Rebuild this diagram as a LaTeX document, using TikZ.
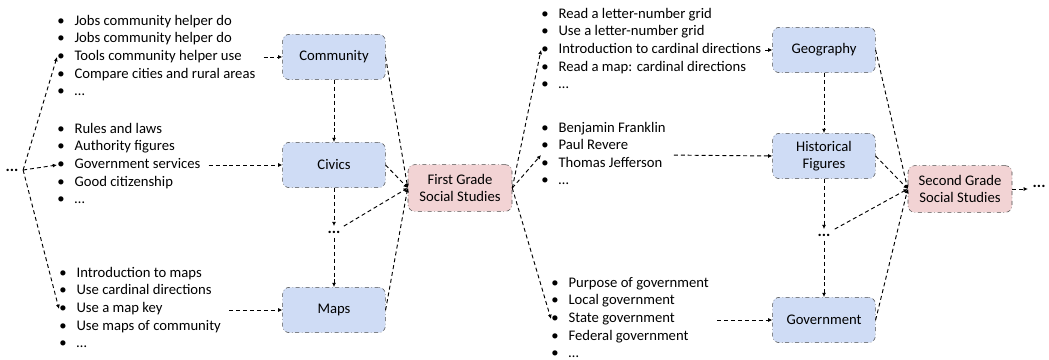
\documentclass[tikz,border=0pt]{standalone}
\usepackage{fontspec}
\setmainfont{Carlito}
\usetikzlibrary{positioning,arrows.meta}

\definecolor{topicblue}{HTML}{CFDCF5}
\definecolor{gradepink}{HTML}{F2D3D4}

% bullet list of five (or four) lines
\newcommand{\bulletlist}[1]{%
  \begin{tabular}{@{}l@{\hspace{7.5pt}}l@{}}#1\end{tabular}}

\begin{document}
\begin{tikzpicture}[x=0.75pt,y=-0.75pt,
  font=\fontsize{11}{13.2}\selectfont,
  topic/.style={draw=black!70,dash dot,thin,rounded corners=5pt,fill=topicblue,
    minimum width=77pt,minimum height=34pt,align=center},
  grade/.style={topic,fill=gradepink,minimum width=78pt,minimum height=35pt},
  items/.style={inner sep=0pt,anchor=west},
  more/.style={font=\fontsize{12}{14}\selectfont\bfseries},
  link/.style={line width=0.7pt,dash pattern=on 3pt off 2.2pt,
    -{Latex[length=3.2pt,width=3pt]}}]

\useasboundingbox (0,0) rectangle (1049,360);

\node[more] (start) at (12,170) {...};

% first grade
\node[items] (communitylist) at (57,57) {\bulletlist{%
  • & Jobs community helper do\\
  • & Jobs community helper do\\
  • & Tools community helper use\\
  • & Compare cities and rural areas\\
  • & \dots}};
\node[items] (civicslist) at (57,165) {\bulletlist{%
  • & Rules and laws\\
  • & Authority figures\\
  • & Government services\\
  • & Good citizenship\\
  • & \dots}};
\node[items] (mapslist) at (59,309) {\bulletlist{%
  • & Introduction to maps\\
  • & Use cardinal directions\\
  • & Use a map key\\
  • & Use maps of community\\
  • & \dots}};

\node[topic] (community) at (334,57) {Community};
\node[topic] (civics) at (334,165) {Civics};
\node[more] (moreA) at (334,232) {...};
\node[topic] (maps) at (334,310) {Maps};
\node[grade] (first) at (460,188) {First Grade\\Social Studies};

% second grade
\node[items] (geolist) at (541,50) {\bulletlist{%
  • & Read a letter-number grid\\
  • & Use a letter-number grid\\
  • & Introduction to cardinal directions\\
  • & Read a map: cardinal directions\\
  • & \dots}};
\node[items] (historylist) at (541,155) {\bulletlist{%
  • & Benjamin Franklin\\
  • & Paul Revere\\
  • & Thomas Jefferson\\
  • & \dots}};
\node[items] (govlist) at (551,319) {\bulletlist{%
  • & Purpose of government\\
  • & Local government\\
  • & State government\\
  • & Federal government\\
  • & \dots}};

\node[topic] (geography) at (824,50) {Geography};
\node[topic] (historical) at (824,156) {Historical\\Figures};
\node[more] (moreB) at (824,235) {...};
\node[topic] (government) at (824,320) {Government};
\node[grade] (second) at (960,189) {Second Grade\\Social Studies};
\node[more,anchor=west] (end) at (1028,186) {...};

% connectors
\draw[link] (start.east) -- (communitylist.west);
\draw[link] (start.east) -- (civicslist.west);
\draw[link] (start.east) -- (mapslist.west);
\draw[link,shorten <=6pt] (communitylist.east) -- (community.west);
\draw[link,shorten <=6pt] (civicslist.east |- civics) -- (civics.west);
\draw[link,shorten <=6pt] (mapslist.east |- maps) -- (maps.west);
\draw[link] (community) -- (civics);
\draw[link] (civics) -- (moreA);
\draw[link] (moreA) -- (maps);
\foreach \n in {community,civics,maps}
  \draw[link] (\n.east) -- (first.west);
\draw[link] (moreA) -- (first.west);

\draw[link] (first.east) -- (geolist.west);
\draw[link] (first.east) -- (historylist.west);
\draw[link] (first.east) -- (govlist.west);
\draw[link,shorten <=3pt] (geolist.east) -- (geography.west);
\draw[link,shorten <=6pt] (historylist.east) -- (historical.west);
\draw[link,shorten <=6pt] (govlist.east |- government) -- (government.west);
\draw[link] (geography) -- (historical);
\draw[link] (historical) -- (moreB);
\draw[link] (moreB) -- (government);
\foreach \n in {geography,historical,government}
  \draw[link] (\n.east) -- (second.west);
\draw[link] (moreB) -- (second.west);
\draw[link] (second.east) -- (end.west |- second);
\end{tikzpicture}
\end{document}
